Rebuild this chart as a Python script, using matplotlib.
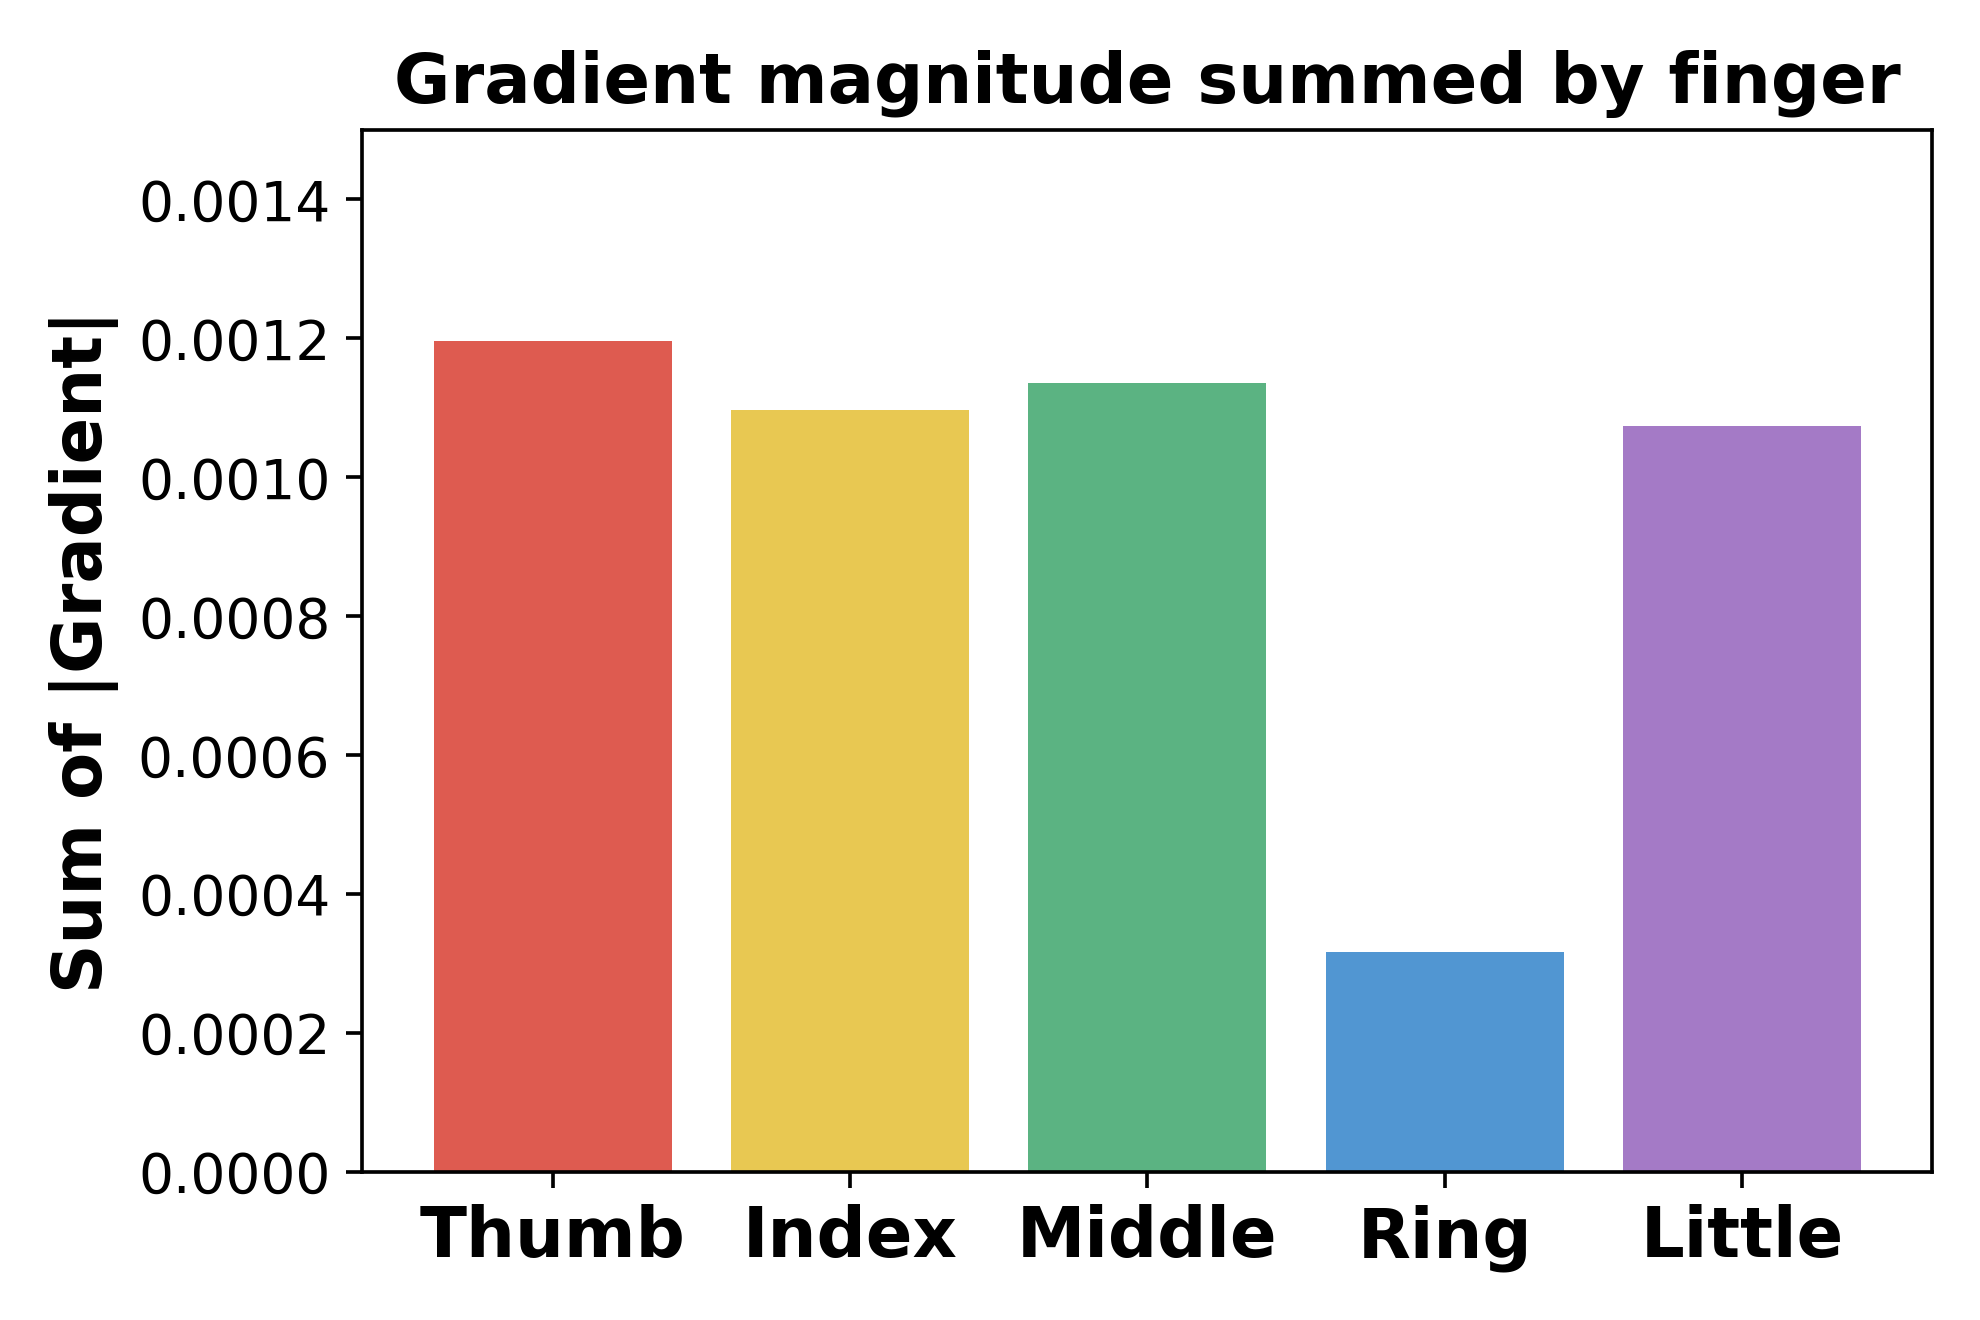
import numpy as np
import matplotlib.pyplot as plt
from matplotlib.ticker import StrMethodFormatter


# Data
fingers = ['Thumb', 'Index', 'Middle', 'Ring', 'Little']
grad_sum = [0.001197, 0.001097, 0.001136, 0.000317, 0.001074]
colors = ['#DE5B50', '#E8C852', '#5BB382', '#5196D2', '#A47AC6']


def main():
    fig, ax = plt.subplots(figsize=(6, 4), dpi=330)
    x = np.arange(len(fingers))
    ax.bar(x, grad_sum, color=colors, width=0.8)
    ax.set_xticks(x)
    ax.set_xticklabels(fingers, fontsize=15, fontweight='bold')
    ax.tick_params(axis='y', labelsize=12)
    ax.set_ylim(0, 0.0015)
    ax.set_yticks(np.arange(0, 0.00141, 0.0002))
    ax.yaxis.set_major_formatter(StrMethodFormatter('{x:.4f}'))
    ax.set_ylabel('Sum of |Gradient|', fontsize=15, fontweight='bold')
    ax.set_title('Gradient magnitude summed by finger', fontsize=15, fontweight='bold')
    fig.subplots_adjust(left=0.183, right=0.976, top=0.9015, bottom=0.112)
    fig.savefig('out.png')


if __name__ == '__main__':
    main()
